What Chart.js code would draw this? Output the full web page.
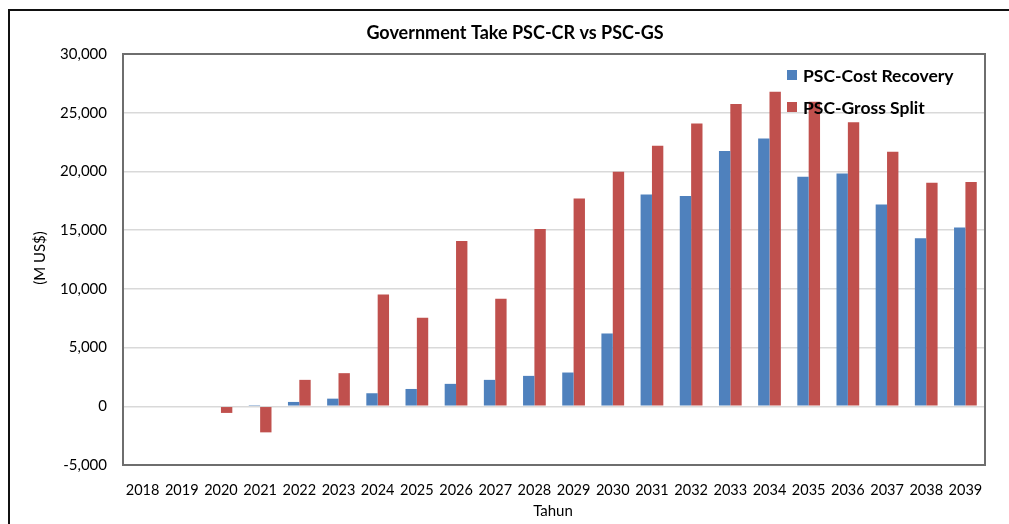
<!DOCTYPE html>
<html>
<head>
<meta charset="utf-8">
<title>Government Take PSC-CR vs PSC-GS</title>
<script src="https://cdn.jsdelivr.net/npm/chart.js@4.4.1/dist/chart.umd.min.js"></script>
<style>
  html, body { margin: 0; padding: 0; background: #fff; }
  #wrap { width: 1009px; height: 524px; position: relative; }
</style>
</head>
<body>
<div id="wrap"><canvas id="takeChart" width="1009" height="524"></canvas></div>
<script>
const years = ['2018', '2019', '2020', '2021', '2022', '2023', '2024', '2025', '2026', '2027', '2028',
  '2029', '2030', '2031', '2032', '2033', '2034', '2035', '2036', '2037', '2038', '2039'];
const costRecovery = [0, 0, 0, 100, 370, 650, 1110, 1475, 1910, 2250, 2590,
  2875, 6200, 18030, 17910, 21730, 22810, 19540, 19830, 17180, 14310, 15220];
const grossSplit = [0, 0, -565, -2220, 2250, 2820, 9520, 7540, 14080, 9160, 15100,
  17690, 19970, 22180, 24090, 25740, 26790, 25930, 24180, 21670, 19030, 19110];
const yTicks = [-5000, 0, 5000, 10000, 15000, 20000, 25000, 30000];

const FONT = 'Lato, "Open Sans", sans-serif';
const BLUE = '#4F81BD';
const RED = '#C0504D';

// frame, title, axis titles and the legend box sitting inside the plot
const decorations = {
  id: 'decorations',
  beforeDraw(chart) {
    const ctx = chart.ctx;
    ctx.save();
    ctx.fillStyle = '#fff';
    ctx.fillRect(0, 0, chart.width, chart.height);
    ctx.restore();
  },
  afterDraw(chart) {
    const ctx = chart.ctx;
    const a = chart.chartArea;
    ctx.save();
    // plot border
    ctx.strokeStyle = '#6e6e6e';
    ctx.lineWidth = 2;
    ctx.strokeRect(a.left, a.top, a.right - a.left, a.bottom - a.top);
    // outer frame
    ctx.strokeStyle = '#111';
    ctx.lineWidth = 2;
    ctx.strokeRect(9, 10, 1100, 700);

    ctx.fillStyle = '#000';
    ctx.textAlign = 'center';
    ctx.textBaseline = 'middle';
    ctx.font = 'bold 18px ' + FONT;
    ctx.fillText('Government Take PSC-CR vs PSC-GS', 515, 33);

    ctx.font = '15px ' + FONT;
    ctx.fillText('Tahun', 553, 511);
    ctx.save();
    ctx.translate(40, 258);
    ctx.rotate(-Math.PI / 2);
    ctx.fillText('(M US$)', 0, 0);
    ctx.restore();

    // legend
    ctx.textAlign = 'left';
    ctx.font = 'bold 17.5px ' + FONT;
    chart.data.datasets.forEach((ds, i) => {
      const y = 75 + i * 32;
      ctx.fillStyle = ds.backgroundColor;
      ctx.fillRect(787, y - 5, 10, 10);
      ctx.fillStyle = '#000';
      ctx.fillText(ds.label, 803, y + 1);
    });
    ctx.restore();
  }
};

new Chart(document.getElementById('takeChart'), {
  type: 'bar',
  data: {
    labels: years,
    datasets: [
      { label: 'PSC-Cost Recovery', data: costRecovery, backgroundColor: BLUE },
      { label: 'PSC-Gross Split', data: grossSplit, backgroundColor: RED }
    ]
  },
  options: {
    responsive: false,
    animation: false,
    layout: { padding: { top: 54, right: 24, bottom: 0, left: 0 } },
    plugins: { legend: { display: false }, title: { display: false }, tooltip: { enabled: false } },
    datasets: { bar: { categoryPercentage: 0.58, barPercentage: 1.0 } },
    scales: {
      x: {
        grid: { display: false, drawTicks: false },
        border: { display: false },
        ticks: { color: '#000', font: { family: FONT, size: 14.5 }, padding: 17, maxRotation: 0, autoSkip: false },
        afterFit: s => { s.height = 59; }
      },
      y: {
        min: -5000,
        max: 30000,
        afterBuildTicks: s => { s.ticks = yTicks.map(v => ({ value: v })); },
        grid: { color: '#d9d9d9', lineWidth: 1.5, drawTicks: false },
        border: { display: false },
        ticks: {
          color: '#000',
          font: { family: FONT, size: 15 },
          padding: 16,
          callback: v => v.toLocaleString('en-US')
        },
        afterFit: s => { s.width = 123; }
      }
    }
  },
  plugins: [decorations]
});
</script>
</body>
</html>
